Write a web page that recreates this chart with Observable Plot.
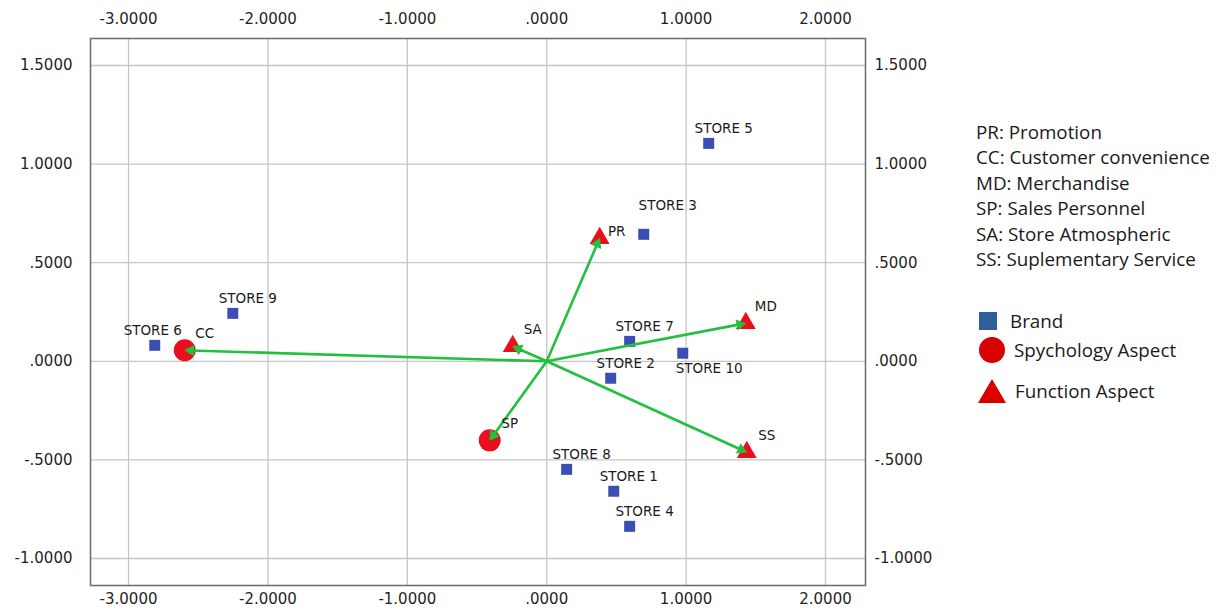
<!DOCTYPE html>
<html><head><meta charset="utf-8">
<script src="https://cdn.jsdelivr.net/npm/d3@7"></script>
<script src="https://cdn.jsdelivr.net/npm/@observablehq/plot@0.6"></script>
<style>
body{margin:0;background:#fff;}
#wrap{position:relative;width:1222px;height:612px;overflow:hidden;}
#legend{position:absolute;left:976px;top:120px;font-family:"Open Sans",sans-serif;font-size:18.8px;color:#1a1a1a;}
#legend .ln{height:25.4px;line-height:25.4px;white-space:nowrap;}
#legend .sym{position:absolute;white-space:nowrap;}
</style></head><body><div id="wrap"><div id="chart"></div><div id="legend"></div></div>
<script>
// ---- data ----
const stores = ["STORE 1","STORE 2","STORE 3","STORE 4","STORE 5","STORE 6","STORE 7","STORE 8","STORE 9","STORE 10"];
const storeX = [0.481, 0.459, 0.696, 0.595, 1.162, -2.812, 0.595, 0.143, -2.252, 0.976];
const storeY = [-0.659, -0.086, 0.644, -0.837, 1.105, 0.081, 0.101, -0.548, 0.243, 0.041];

const aspects = ["PR","CC","MD","SP","SA","SS"];
const aspectX = [0.380, -2.597, 1.428, -0.409, -0.244, 1.435];
const aspectY = [0.624, 0.056, 0.193, -0.401, 0.076, -0.461];
const aspectType = ["Function","Psychology","Function","Psychology","Function","Function"];
const origin = [0, 0];

const xTicks = [-3, -2, -1, 0, 1, 2];
const yTicks = [-1, -0.5, 0, 0.5, 1, 1.5];
const xDomain = [-3.273, 2.287];
const yDomain = [-1.137, 1.637];

const abbrevs = ["PR: Promotion","CC: Customer convenience","MD: Merchandise","SP: Sales Personnel","SA: Store Atmospheric","SS: Suplementary Service"];
const legendNames = ["Brand","Spychology Aspect","Function Aspect"];

// ---- layout ----
const W = 1222, H = 612, mL = 90, mR = 357, mT = 38, mB = 27;
const kx = (W - mL - mR) / (xDomain[1] - xDomain[0]); // px per unit
const ky = (H - mT - mB) / (yDomain[1] - yDomain[0]);
const HEAD_BACK = 6; // px from vector end to arrow-head centroid

// ---- build ----
const storeData = stores.map((name, i) => ({name, x: storeX[i], y: storeY[i]}));
const aspectData = aspects.map((name, i) => {
  const vx = aspectX[i] - origin[0], vy = aspectY[i] - origin[1];
  const sx = vx * kx, sy = vy * ky, len = Math.hypot(sx, sy);
  return {
    name, type: aspectType[i], x: aspectX[i], y: aspectY[i], x0: origin[0], y0: origin[1],
    hx: aspectX[i] - (sx / len) * HEAD_BACK / kx,
    hy: aspectY[i] - (sy / len) * HEAD_BACK / ky,
    angle: Math.atan2(sx, sy) * 180 / Math.PI
  };
});

function fmt(d) {
  let s = Math.abs(d).toFixed(4);
  if (Math.abs(d) < 1) s = s.replace(/^0/, "");
  return (d < 0 ? "-" : "") + s;
}

const BLUE = "#3b4fb3", RED = "#e8101c", GREEN = "#22c040", TXT = "#1a1a1a";
const special = new Set(["STORE 3","STORE 6","STORE 10"]);
const LF = 13.5;

const chart = Plot.plot({
  width: W, height: H,
  marginLeft: mL, marginRight: mR, marginTop: mT, marginBottom: mB,
  style: {fontFamily: "DejaVu Sans", fontSize: "14px", color: "#1f1f1f", background: "#fff"},
  x: {domain: xDomain},
  y: {domain: yDomain},
  marks: [
    Plot.gridX(xTicks, {stroke: "#c6c6c6", strokeOpacity: 1, strokeWidth: 1.3}),
    Plot.gridY(yTicks, {stroke: "#c6c6c6", strokeOpacity: 1, strokeWidth: 1.3}),
    Plot.frame({stroke: "#6a6a6a", strokeWidth: 1.5}),
    Plot.axisX(xTicks, {anchor: "top", tickSize: 0, tickPadding: 15, tickFormat: fmt, label: null, fontSize: 15}),
    Plot.axisX(xTicks, {anchor: "bottom", tickSize: 0, tickPadding: 8, tickFormat: fmt, label: null, fontSize: 15}),
    Plot.axisY(yTicks, {anchor: "left", tickSize: 0, tickPadding: 18, tickFormat: fmt, label: null, fontSize: 15}),
    Plot.axisY(yTicks, {anchor: "right", tickSize: 0, tickPadding: 9, tickFormat: fmt, label: null, fontSize: 15}),
    Plot.dot(storeData, {x: "x", y: "y", symbol: "square", r: 6.2, fill: BLUE}),
    Plot.dot(aspectData.filter(d => d.type === "Psychology"), {x: "x", y: "y", symbol: "circle", r: 11, fill: RED}),
    Plot.dot(aspectData.filter(d => d.type === "Function"), {x: "x", y: "y", symbol: "triangle", r: 7.4, fill: RED}),
    Plot.link(aspectData, {x1: "x0", y1: "y0", x2: "hx", y2: "hy", stroke: GREEN, strokeWidth: 2.6}),
    Plot.dot(aspectData, {x: "hx", y: "hy", symbol: "triangle", r: 4.2, fill: GREEN, rotate: "angle"}),
    Plot.text(storeData.filter(d => !special.has(d.name)), {x: "x", y: "y", text: "name", dx: 15, dy: -15, fontSize: LF, fill: TXT}),
    Plot.text(storeData.filter(d => d.name === "STORE 3"), {x: "x", y: "y", text: "name", dx: 24, dy: -29, fontSize: LF, fill: TXT}),
    Plot.text(storeData.filter(d => d.name === "STORE 6"), {x: "x", y: "y", text: "name", dx: -2, dy: -15, fontSize: LF, fill: TXT}),
    Plot.text(storeData.filter(d => d.name === "STORE 10"), {x: "x", y: "y", text: "name", dx: -7, dy: 15, textAnchor: "start", fontSize: LF, fill: TXT}),
    Plot.text(aspectData.filter(d => d.name !== "PR"), {x: "x", y: "y", text: "name", dx: 20, dy: -17, fontSize: LF, fill: TXT}),
    Plot.text(aspectData.filter(d => d.name === "PR"), {x: "x", y: "y", text: "name", dx: 17, dy: -7, fontSize: LF, fill: TXT})
  ]
});
document.getElementById("chart").appendChild(chart);

// ---- legend ----
const lg = document.getElementById("legend");
abbrevs.forEach(t => { const d = document.createElement("div"); d.className = "ln"; d.textContent = t; lg.appendChild(d); });
const symSvgs = [
  `<svg width="20" height="20" style="vertical-align:middle"><rect x="1" y="1" width="18" height="18" fill="#2f5e9c"/></svg>`,
  `<svg width="28" height="28" style="vertical-align:middle"><circle cx="14" cy="14" r="13" fill="#d90000"/></svg>`,
  `<svg width="30" height="26" style="vertical-align:middle"><polygon points="15,1 29,25 1,25" fill="#d90000"/></svg>`
];
const symTops = [186, 215, 256];
const symLefts = [2, 2, 1];
const textGap = [12, 8, 8];
legendNames.forEach((n, i) => {
  const d = document.createElement("div");
  d.className = "sym";
  d.style.top = symTops[i] + "px";
  d.style.left = symLefts[i] + "px";
  d.innerHTML = symSvgs[i] + `<span style="vertical-align:middle;margin-left:${textGap[i]}px">${n}</span>`;
  lg.appendChild(d);
});
</script>
</body></html>
